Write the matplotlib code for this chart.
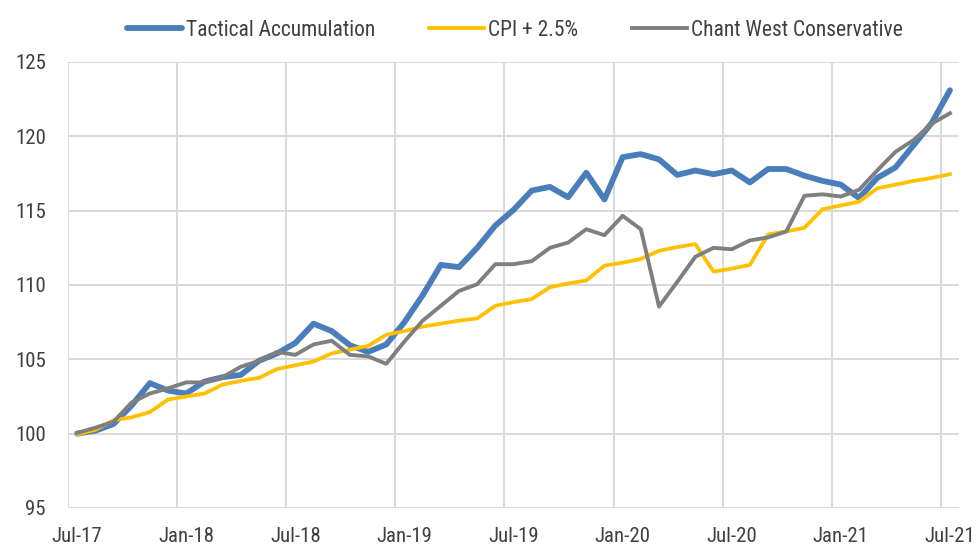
import numpy as np
import matplotlib.pyplot as plt
from matplotlib import font_manager

# pick a narrow face if one is around
names = {f.name for f in font_manager.fontManager.ttflist}
narrow = [n for n in ['Liberation Sans Narrow', 'DejaVu Sans Condensed', 'Roboto Condensed'] if n in names]
plt.rcParams['font.family'] = narrow + ['DejaVu Sans']
plt.rcParams['font.stretch'] = 'condensed'

# monthly index values, Jul-17 .. Jul-21
months = ["Jul-17", "Aug-17", "Sep-17", "Oct-17", "Nov-17", "Dec-17",
          "Jan-18", "Feb-18", "Mar-18", "Apr-18", "May-18", "Jun-18",
          "Jul-18", "Aug-18", "Sep-18", "Oct-18", "Nov-18", "Dec-18",
          "Jan-19", "Feb-19", "Mar-19", "Apr-19", "May-19", "Jun-19",
          "Jul-19", "Aug-19", "Sep-19", "Oct-19", "Nov-19", "Dec-19",
          "Jan-20", "Feb-20", "Mar-20", "Apr-20", "May-20", "Jun-20",
          "Jul-20", "Aug-20", "Sep-20", "Oct-20", "Nov-20", "Dec-20",
          "Jan-21", "Feb-21", "Mar-21", "Apr-21", "May-21", "Jun-21",
          "Jul-21"]

tactical = [100.0, 100.2, 100.65, 101.9, 103.4, 102.9, 102.7, 103.5, 103.8, 103.95,
            104.9, 105.4, 106.1, 107.4, 106.9, 105.95, 105.5, 106.0, 107.5, 109.3,
            111.35, 111.2, 112.5, 114.0, 115.05, 116.35, 116.6, 115.9, 117.55, 115.75,
            118.6, 118.8, 118.45, 117.4, 117.7, 117.45, 117.7, 116.9, 117.8, 117.8,
            117.35, 117.0, 116.75, 115.85, 117.2, 117.9, 119.4, 120.9, 123.1]

cpi = [99.95, 100.25, 100.9, 101.1, 101.45, 102.3, 102.5, 102.7, 103.3, 103.55,
       103.75, 104.35, 104.6, 104.85, 105.4, 105.65, 105.9, 106.65, 106.9, 107.2,
       107.4, 107.6, 107.75, 108.6, 108.85, 109.05, 109.85, 110.1, 110.3, 111.3,
       111.5, 111.75, 112.3, 112.55, 112.75, 110.9, 111.1, 111.35, 113.4, 113.6,
       113.85, 115.1, 115.35, 115.6, 116.5, 116.75, 117.0, 117.2, 117.45]

chant_west = [100.05, 100.4, 100.8, 102.1, 102.7, 103.05, 103.45, 103.45, 103.8, 104.5,
              104.9, 105.5, 105.3, 106.0, 106.25, 105.3, 105.2, 104.7, 106.2, 107.6,
              108.6, 109.6, 110.05, 111.4, 111.4, 111.6, 112.5, 112.85, 113.75, 113.35,
              114.65, 113.75, 108.55, 110.2, 111.9, 112.5, 112.4, 113.0, 113.2, 113.6,
              116.0, 116.1, 115.95, 116.4, 117.7, 118.95, 119.75, 120.85, 121.55]

x = np.arange(len(months))

fig = plt.figure(figsize=(9.79, 5.47), dpi=100)
ax = fig.add_axes([0.0695, 0.0713, 0.9101, 0.8154])

ax.plot(x, tactical, color='#4A7EBB', lw=4.2, label='Tactical Accumulation', solid_capstyle='round')
ax.plot(x, cpi, color='#FFC000', lw=2.7, label='CPI + 2.5%')
ax.plot(x, chant_west, color='#7F7F7F', lw=2.8, label='Chant West Conservative')

ax.set_xlim(-0.5, len(months) - 0.5)
ax.set_ylim(95, 125)
ax.set_yticks(np.arange(95, 126, 5))
ax.set_xticks(x[::6])
ax.set_xticklabels(months[::6])
ax.set_xticks(np.arange(-0.5, len(months), 6), minor=True)

ax.grid(False)
ax.grid(True, axis='y', which='major', color='#D9D9D9', lw=1.4)
ax.grid(True, axis='x', which='minor', color='#D9D9D9', lw=1.4)
ax.set_axisbelow(True)
for s in ax.spines.values():
    s.set_visible(False)
ax.tick_params(axis='both', which='both', length=0, labelsize=15, colors='#404040')
ax.tick_params(axis='y', pad=16)
ax.tick_params(axis='x', pad=14)

fig.legend(loc='center', bbox_to_anchor=(0.526, 0.945), ncol=3, frameon=False,
           fontsize=15.5, handlelength=2.55, handletextpad=0.2, columnspacing=2.5,
           labelcolor='#404040')

fig.savefig('out.png', dpi=100)
